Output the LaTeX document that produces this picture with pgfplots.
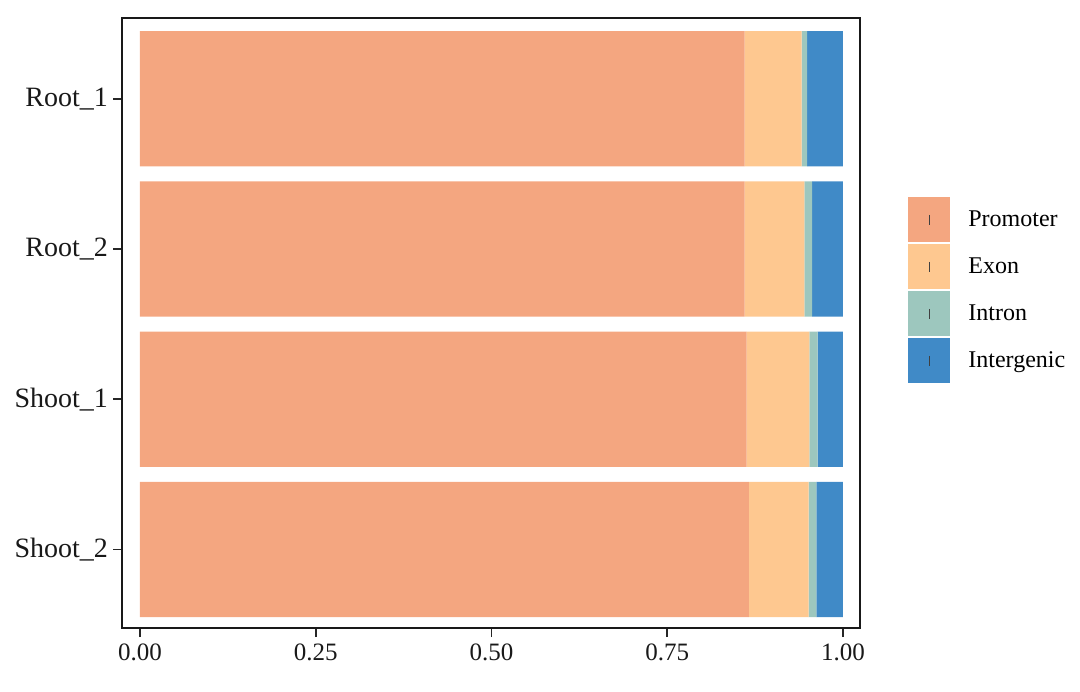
\documentclass[border=0pt]{standalone}
\usepackage{pgfplots}
\usepackage{pgfplotstable}
\pgfplotsset{compat=1.18}
\usepackage{fontspec}
\setmainfont{Liberation Serif}
\definecolor{cProm}{RGB}{244,166,128}
\definecolor{cExon}{RGB}{254,200,144}
\definecolor{cIntr}{RGB}{157,199,190}
\definecolor{cInter}{RGB}{64,138,199}
\pgfplotstableread{
y prom exon intr inter
3 0.860 0.081 0.008 0.051
2 0.860 0.085 0.011 0.044
1 0.863 0.089 0.012 0.036
0 0.866 0.085 0.011 0.038
}\data
\begin{document}
\begin{tikzpicture}
\useasboundingbox (0,0) rectangle (540pt,345.5pt);
\begin{axis}[
  at={(61pt,31.5pt)}, anchor=south west,
  scale only axis, width=369pt, height=305pt,
  xbar stacked, bar width=0.9,
  xmin=-0.0256, xmax=1.0242, ymin=-0.523, ymax=3.537,
  ytick={0,1,2,3}, yticklabels={Shoot\_2,Shoot\_1,Root\_2,Root\_1},
  xtick={0,0.25,0.5,0.75,1}, xticklabels={0.00,0.25,0.50,0.75,1.00},
  tick align=outside, tick pos=left, major tick length=4.5pt,
  axis line style={line width=1pt, black!90},
  every tick/.style={black!85, line width=0.9pt},
  xticklabel style={font=\fontsize{12.5}{14}\selectfont, text=black!90},
  yticklabel style={font=\fontsize{14}{16}\selectfont, text=black!90, xshift=1pt},
  legend image code/.code={\fill[#1] (0pt,-11.25pt) rectangle (21pt,11.25pt); \draw[black!75, line width=0.5pt] (10.5pt,-2.5pt) -- (10.5pt,2.5pt);},
  legend style={at={(1.065,0.7066)}, anchor=north west, draw=none, fill=none, inner sep=0pt, row sep=1pt,
    font=\fontsize{12}{14}\selectfont, cells={anchor=west},
    /tikz/every odd column/.append style={column sep=7pt}},
]
\addplot[fill=cProm, draw=none] table[x=prom, y=y]{\data};
\addplot[fill=cExon, draw=none] table[x=exon, y=y]{\data};
\addplot[fill=cIntr, draw=none] table[x=intr, y=y]{\data};
\addplot[fill=cInter, draw=none] table[x=inter, y=y]{\data};
\legend{Promoter,Exon,Intron,Intergenic}
\end{axis}
\end{tikzpicture}
\end{document}
